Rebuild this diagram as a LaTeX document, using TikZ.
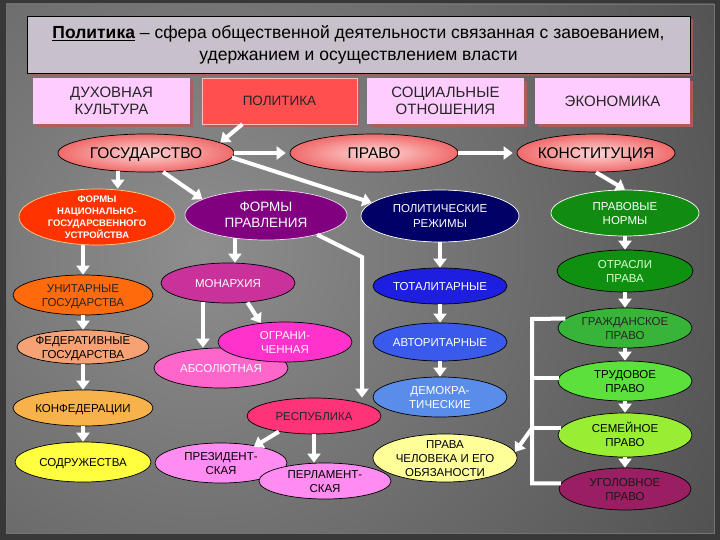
\documentclass[tikz,border=0pt]{standalone}
\usepackage{fontspec}
\setmainfont{Liberation Sans}
\usetikzlibrary{arrows.meta,shapes.geometric,shadows,calc}

\definecolor{bgdark}{HTML}{4E4E4E}
\definecolor{bglight}{HTML}{8E8E8E}
\definecolor{titlefill}{HTML}{C8C0CA}
\definecolor{shadowred}{HTML}{B85A5A}
\definecolor{lilac}{HTML}{FFCCFF}
\definecolor{polred}{HTML}{FF4F4F}
\definecolor{pinkhi}{HTML}{FFD8D8}
\definecolor{pinklo}{HTML}{F06A6A}
\definecolor{natred}{HTML}{FF3300}
\definecolor{natedge}{HTML}{FFD080}
\definecolor{plum}{HTML}{800080}
\definecolor{navy}{HTML}{000066}
\definecolor{lawgreen}{HTML}{118C11}
\definecolor{branchgreen}{HTML}{109010}
\definecolor{civgreen}{HTML}{38B538}
\definecolor{labgreen}{HTML}{5CE03C}
\definecolor{famgreen}{HTML}{99EE33}
\definecolor{crimred}{HTML}{9A1F62}
\definecolor{unorange}{HTML}{FF6A0C}
\definecolor{fedorange}{HTML}{F7A274}
\definecolor{confamber}{HTML}{F8B24C}
\definecolor{sodryellow}{HTML}{FFFF40}
\definecolor{monmag}{HTML}{C8329A}
\definecolor{abspink}{HTML}{FF66CC}
\definecolor{limpink}{HTML}{FF33CC}
\definecolor{reprose}{HTML}{FF3378}
\definecolor{lilacpink}{HTML}{FF8CF0}
\definecolor{totblue}{HTML}{1E1EE0}
\definecolor{avtblue}{HTML}{3A5AEC}
\definecolor{demblue}{HTML}{5A8CEA}
\definecolor{paleyellow}{HTML}{FFFF99}

% text of an oval, kept out of the oval's size
\newcommand{\otext}[1]{\makebox[0pt]{\smash{\raisebox{-0.37em}{\begin{tabular}{@{}c@{}}#1\end{tabular}}}}}

\begin{document}
\begin{tikzpicture}[
  x=1pt, y=-1pt,
  font=\fontsize{11.5}{14}\selectfont,
  oval/.style 2 args={ellipse, draw=black, line width=0.7pt, inner sep=0pt,
                      minimum width=#1, minimum height=#2},
  bigoval/.style={oval={#1}{38pt}, inner color=pinkhi, outer color=pinklo,
                  font=\fontsize{15.5}{18}\selectfont},
  topbox/.style={rectangle, fill=lilac, minimum height=46pt, inner sep=0pt,
                 align=center, text=black!85, font=\fontsize{15}{17}\selectfont,
                 drop shadow={shadow xshift=3pt, shadow yshift=-3pt, fill=shadowred, opacity=0.9}},
  arr/.style={draw=white, line width=4pt, -{Triangle[width=13pt,length=9pt]}},
  brk/.style={draw=white, line width=4pt},
]
% Coordinate system: pixels of the slide, y downwards

% --- Slide background ---
\fill[black!78] (0,0) rectangle (720,540);
\begin{scope}
  \clip (6,4) rectangle (714,533);
  \fill[bgdark] (0,0) rectangle (720,540);
  \shade[inner color=bglight, outer color=bgdark] (200,250) circle (620pt);
\end{scope}
\draw[black!55, line width=0.8pt] (6,4) rectangle (714,533);

% --- Title ---
\node[rectangle, draw=black, line width=0.8pt, fill=titlefill, minimum width=663pt,
      minimum height=57pt, align=center, font=\fontsize{17.5}{22}\selectfont,
      drop shadow={shadow xshift=3pt, shadow yshift=-3pt, fill=shadowred, opacity=0.8}]
  (title) at (358.5,44.5)
  {\underline{\textbf{Политика}} – сфера общественной деятельности связанная с завоеванием,\\
   удержанием и осуществлением власти};

% --- Spheres of society ---
\node[topbox, minimum width=157pt] (duh) at (111.5,101) {ДУХОВНАЯ\\КУЛЬТУРА};
\node[topbox, minimum width=155pt, fill=polred, draw=white!75!red,
      font=\fontsize{13.5}{16}\selectfont] (pol) at (279.5,101) {ПОЛИТИКА};
\node[topbox, minimum width=157pt] (soc) at (445.5,101) {СОЦИАЛЬНЫЕ\\ОТНОШЕНИЯ};
\node[topbox, minimum width=155pt] (eco) at (612.5,101) {ЭКОНОМИКА};

% --- Main ovals ---
\node[bigoval=176pt] (gos) at (146,153) {\otext{ГОСУДАРСТВО}};
\node[bigoval=168pt] (pravo) at (374,153) {\otext{ПРАВО}};
\node[bigoval=158pt] (konst) at (596,153) {\otext{КОНСТИТУЦИЯ}};

% --- Second level ---
\node[oval={156pt}{56pt}, fill=natred, draw=natedge, text=white,
      font=\bfseries\fontsize{9.5}{12}\selectfont] (fnat) at (97,217)
  {\otext{ФОРМЫ\\НАЦИОНАЛЬНО-\\ГОСУДАРСВЕННОГО\\УСТРОЙСТВА}};
\node[oval={162pt}{50pt}, fill=plum, draw=white!85!plum, text=white,
      font=\fontsize{13.5}{16}\selectfont] (fpr) at (266,215) {\otext{ФОРМЫ\\ПРАВЛЕНИЯ}};
\node[oval={158pt}{52pt}, fill=navy, draw=white, text=white,
      font=\fontsize{11.5}{15}\selectfont] (preg) at (440,216) {\otext{ПОЛИТИЧЕСКИЕ\\РЕЖИМЫ}};
\node[oval={148pt}{46pt}, fill=lawgreen, draw=white, text=white] (pnorm) at (625,213)
  {\otext{ПРАВОВЫЕ\\НОРМЫ}};

% --- State structure ---
\node[oval={140pt}{40pt}, fill=unorange, text=black!85] (unit) at (83,295) {\otext{УНИТАРНЫЕ\\ГОСУДАРСТВА}};
\node[oval={132pt}{34pt}, fill=fedorange] (fed) at (83,347) {\otext{ФЕДЕРАТИВНЫЕ\\ГОСУДАРСТВА}};
\node[oval={140pt}{36pt}, fill=confamber] (konf) at (83,408) {\otext{КОНФЕДЕРАЦИИ}};
\node[oval={136pt}{40pt}, fill=sodryellow] (sodr) at (83,462) {\otext{СОДРУЖЕСТВА}};

% --- Forms of government ---
\node[oval={134pt}{40pt}, fill=monmag, text=white] (mon) at (228,283) {\otext{МОНАРХИЯ}};
\node[oval={134pt}{40pt}, fill=abspink, text=white!90!pink] (abs) at (221,368) {\otext{АБСОЛЮТНАЯ}};
\node[oval={134pt}{40pt}, fill=limpink, text=white!85!pink] (ogr) at (285,342) {\otext{ОГРАНИ-\\ЧЕННАЯ}};
\node[oval={134pt}{36pt}, fill=reprose, text=black!85] (resp) at (314,416) {\otext{РЕСПУБЛИКА}};
\node[oval={132pt}{40pt}, fill=lilacpink] (prez) at (221,463) {\otext{ПРЕЗИДЕНТ-\\СКАЯ}};
\node[oval={132pt}{36pt}, fill=lilacpink] (parl) at (325,481) {\otext{ПЕРЛАМЕНТ-\\СКАЯ}};

% --- Political regimes ---
\node[oval={134pt}{36pt}, fill=totblue, text=white] (tot) at (440,286) {\otext{ТОТАЛИТАРНЫЕ}};
\node[oval={134pt}{38pt}, fill=avtblue, text=white] (avt) at (440,342) {\otext{АВТОРИТАРНЫЕ}};
\node[oval={134pt}{40pt}, fill=demblue, text=white] (dem) at (440,397) {\otext{ДЕМОКРА-\\ТИЧЕСКИЕ}};
\node[oval={144pt}{48pt}, fill=paleyellow] (pch) at (445,458) {\otext{ПРАВА\\ЧЕЛОВЕКА И ЕГО\\ОБЯЗАНОСТИ}};

% --- Branches of law ---
\node[oval={136pt}{42pt}, fill=branchgreen, text=white!85!green] (otr) at (625,271) {\otext{ОТРАСЛИ\\ПРАВА}};
\node[oval={134pt}{40pt}, fill=civgreen, text=black!85] (grazh) at (625,328) {\otext{ГРАЖДАНСКОЕ\\ПРАВО}};
\node[oval={134pt}{40pt}, fill=labgreen] (trud) at (625,381) {\otext{ТРУДОВОЕ\\ПРАВО}};
\node[oval={134pt}{44pt}, fill=famgreen] (sem) at (625,435) {\otext{СЕМЕЙНОЕ\\ПРАВО}};
\node[oval={132pt}{42pt}, fill=crimred, text=black!90] (ugol) at (625,489) {\otext{УГОЛОВНОЕ\\ПРАВО}};

% --- Arrows ---
\coordinate (bend) at (362,257);
\coordinate (brk) at (532,319);

\draw[arr] (pol.-148) -- (gos.8);
\draw[arr, shorten >=4pt] (gos.east) -- (pravo.west);
\draw[arr, shorten >=4pt] (pravo.east) -- (konst.west);
\draw[arr] (gos.-147) -- (gos.-147 |- fnat.north);
\draw[arr] (gos.-48) -- (fpr.166);
\draw[arr] (gos.-3) -- (preg.169);
\draw[arr] (fpr.-21) -- (bend) -- (bend |- resp.north);
\draw[arr] (fpr.-143) -- (fpr.-143 |- mon.north);

%% state structure column
\draw[arr] (fnat.south -| unit.north) -- (unit.north);
\draw[arr] (unit.south) -- (fed.north);
\draw[arr] (fed.south) -- (konf.north);
\draw[arr] (konf.south) -- (sodr.north);

%% monarchy and republic
\draw[arr] (mon.-143) -- (mon.-143 |- abs.north);
\draw[arr] (mon.-45) -- (ogr.142);
\draw[arr] (resp.-156) -- ($(prez.north)!0.7!(prez.north east)$);
\draw[arr] (resp.south) -- (resp.south |- parl.north);

%% regimes column
\draw[arr] (preg.south) -- (tot.north);
\draw[arr] (tot.south) -- (avt.north);
\draw[arr] (avt.south) -- (dem.north);

%% law column
\draw[arr] (konst.south) -- (pnorm.north);
\draw[arr] (pnorm.south) -- (otr.north);
\draw[arr] (otr.south) -- (grazh.north);
\draw[arr] (grazh.south) -- (trud.north);
\draw[arr] (trud.south) -- (sem.north);
\draw[arr] (sem.south) -- (ugol.north);

%% bracket round the branches
\draw[brk] (grazh.171) -- (brk) |- (ugol.175);
\draw[brk] (brk |- trud.177) -- (trud.177);
\draw[brk] (brk |- sem.174) -- (sem.174);
\draw[arr] (brk |- sem.174) -- (pch.5);

\end{tikzpicture}
\end{document}
